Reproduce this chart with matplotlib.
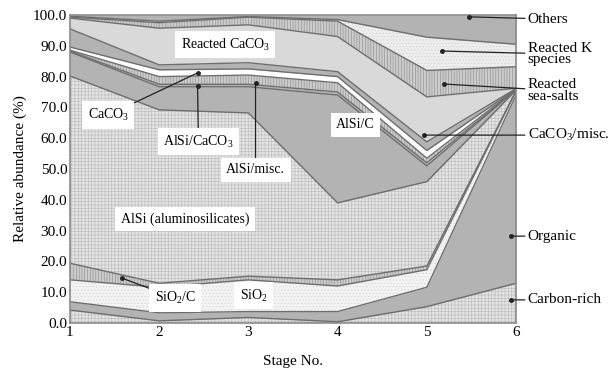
import numpy as np
import matplotlib
matplotlib.use('Agg')
import matplotlib.pyplot as plt

plt.rcParams['font.family'] = ['Liberation Serif', 'DejaVu Serif']
plt.rcParams['mathtext.fontset'] = 'custom'
plt.rcParams['mathtext.rm'] = 'Liberation Serif'
plt.rcParams['mathtext.it'] = 'Liberation Serif:italic'
plt.rcParams['mathtext.bf'] = 'Liberation Serif:bold'
plt.rcParams['hatch.linewidth'] = 0.4

stages = [1, 2, 3, 4, 5, 6]

# layer thicknesses (%), bottom to top
carbon_rich = [4.2, 0.7, 1.8, 0.4, 5.3, 12.9]
organic = [2.7, 2.6, 1.9, 3.3, 6.3, 61.1]
sio2 = [7.1, 8.3, 10.3, 8.3, 5.7, 1.2]
sio2_c = [5.4, 1.3, 1.2, 2.0, 1.2, 0.2]
alsi = [60.8, 56.3, 53.0, 25.0, 27.4, 0.2]
alsi_c = [7.8, 7.5, 8.5, 35.0, 5.1, 0.1]
alsi_misc = [0.3, 0.8, 0.8, 1.0, 1.0, 0.1]
alsi_caco3 = [0.3, 2.5, 3.0, 3.0, 1.5, 0.1]
caco3 = [1.0, 2.2, 2.0, 2.0, 2.5, 0.1]
caco3_misc = [5.9, 1.6, 2.0, 1.6, 2.8, 0.1]
reacted_caco3 = [3.5, 11.9, 12.3, 11.4, 14.6, 0.1]
reacted_sea_salts = [0.3, 1.8, 2.5, 5.0, 8.6, 7.0]
reacted_k = [0.3, 0.5, 0.2, 0.5, 10.8, 7.3]
others = [0.4, 2.0, 0.5, 1.5, 7.2, 9.5]

layers = [carbon_rich, organic, sio2, sio2_c, alsi, alsi_c, alsi_misc,
          alsi_caco3, caco3, caco3_misc, reacted_caco3, reacted_sea_salts,
          reacted_k, others]

# (face colour, hatch, hatch colour) for each layer
grid = ('#e2e2e2', '+++++', '#bcbcbc')
gray = ('#b3b3b3', None, '#b3b3b3')
dots = ('#f3f3f3', '.....', '#d6d6d6')
stripes = ('#cbcbcb', '||||||', '#8c8c8c')
styles = [grid, gray, dots, stripes, grid, gray, gray, stripes,
          ('#ffffff', None, '#ffffff'), gray, ('#d9d9d9', None, '#d9d9d9'),
          stripes, ('#ededed', '.....', '#d2d2d2'), gray]

fig = plt.figure(figsize=(6.16, 3.75), dpi=100)
ax = fig.add_axes([0.1136, 0.1387, 0.7241, 0.8213])

polys = ax.stackplot(stages, *layers, linewidth=0)
for poly, (fc, hatch, hc) in zip(polys, styles):
    poly.set_facecolor(fc)
    poly.set_edgecolor(hc)
    poly.set_linewidth(0)
    if hatch:
        poly.set_hatch(hatch)

tops = np.cumsum(np.array(layers), axis=0)
for top in tops[:-1]:
    ax.plot(stages, top, color='#6e6e6e', lw=1.0)

ax.set_xlim(1, 6)
ax.set_ylim(0, 100)
ax.set_xticks(stages)
ax.set_yticks(np.arange(0, 101, 10))
ax.set_yticklabels([f'{v:.1f}' for v in np.arange(0, 101, 10)])
ax.tick_params(length=0, labelsize=11, pad=2)
for s in ax.spines.values():
    s.set_color('#8a8a8a')
    s.set_linewidth(1.2)
ax.set_xlabel('Stage No.', fontsize=11, labelpad=12)
ax.set_ylabel('Relative abundance (%)', fontsize=11, labelpad=4)

box = dict(boxstyle='square,pad=0.4', fc='white', ec='none')
lbl = dict(fontsize=10, ha='center', va='center', bbox=box)
arrow = dict(arrowstyle='-', color='#222222', lw=0.9, shrinkA=0, shrinkB=0)

# in-plot labels
ax.text(2.74, 90.3, 'Reacted CaCO$_3$', **lbl)
ax.text(4.2, 64.3, 'AlSi/C', **lbl)
ax.text(2.29, 33.8, 'AlSi (aluminosilicates)', **lbl)
ax.text(3.06, 8.8, 'SiO$_2$', **lbl)

pointed = [
    ('CaCO$_3$', (2.43, 81.2), (1.43, 67.5)),
    ('AlSi/CaCO$_3$', (2.43, 77.0), (2.44, 58.8)),
    ('AlSi/misc.', (3.08, 78.0), (3.08, 49.7)),
    ('SiO$_2$/C', (1.58, 14.6), (2.18, 8.1)),
]
for text, tip, pos in pointed:
    ax.annotate(text, xy=tip, xytext=pos, arrowprops=arrow, zorder=5, **lbl)
    ax.plot(*tip, 'o', color='#222222', ms=2.5, zorder=6)

# legend-style labels on the right
right = [
    ('Others', (5.47, 99.4), 98.7),
    ('Reacted K\nspecies', (5.17, 88.3), 87.3),
    ('Reacted\nsea-salts', (5.19, 77.6), 75.5),
    ('CaCO$_3$/misc.', (4.97, 61.0), 61.0),
    ('Organic', (5.94, 28.2), 28.2),
    ('Carbon-rich', (5.94, 7.5), 7.5),
]
for text, tip, ty in right:
    ax.annotate(text, xy=tip, xytext=(6.13, ty), ha='left', va='center',
                fontsize=11, linespacing=0.85, annotation_clip=False,
                arrowprops=arrow)
    ax.plot(*tip, 'o', color='#222222', ms=2.5, zorder=6)

fig.savefig('out.png', dpi=100)
